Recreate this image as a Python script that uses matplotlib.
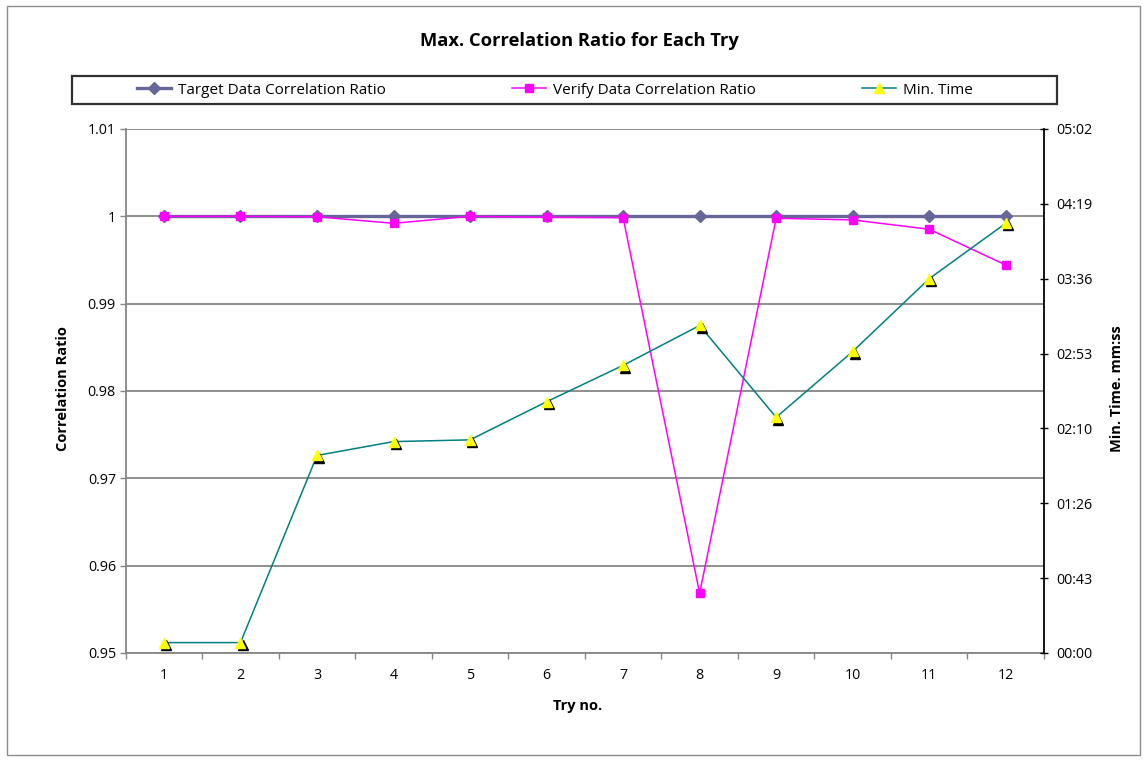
import matplotlib
matplotlib.use("Agg")
import matplotlib.pyplot as plt
import matplotlib.transforms as mtransforms
from matplotlib.ticker import FixedLocator, FuncFormatter, NullFormatter
from matplotlib.lines import Line2D
from matplotlib.patches import Rectangle

plt.rcParams['font.family'] = ['Open Sans', 'DejaVu Sans']

# ---- data ----
tries = list(range(1, 13))
target_ratio = [1.0, 1.0, 1.0, 1.0, 1.0, 1.0, 1.0, 1.0, 1.0, 1.0, 1.0, 1.0]
verify_ratio = [1.0, 1.0, 0.99995, 0.9992, 1.0, 0.99989, 0.99985, 0.95684,
                0.99978, 0.99959, 0.99852, 0.99443]
min_time_sec = [6, 6, 114, 122, 123, 145, 166, 189, 136, 174, 216, 248]

ratio_ticks = [0.95, 0.96, 0.97, 0.98, 0.99, 1.00, 1.01]
ratio_tick_labels = ['0.95', '0.96', '0.97', '0.98', '0.99', '1', '1.01']
time_max_sec = 302.4
time_ticks = [0, 43.2, 86.4, 129.6, 172.8, 216.0, 259.2, 302.4]

title = 'Max. Correlation Ratio for Each Try'
series_names = ['Target Data Correlation Ratio', 'Verify Data Correlation Ratio', 'Min. Time']

# ---- colours ----
c_target = '#666699'
c_verify = '#FF00FF'
c_time = '#008080'
c_tri = '#FFFF00'
c_grid = '#868686'

W, H = 1147, 761
fig = plt.figure(figsize=(W / 100, H / 100), dpi=100)


def fx(px):
    return px / W


def fy(py):
    return 1 - py / H


# outer chart border
fig.patches.append(Rectangle((fx(7), fy(755)), fx(1140) - fx(7), fy(6) - fy(755),
                             transform=fig.transFigure, fill=False,
                             edgecolor='#8c8c8c', linewidth=1.0))

left, right, top, bottom = 125.7, 1044, 129, 653
ax = fig.add_axes([fx(left), fy(bottom), fx(right) - fx(left), fy(top) - fy(bottom)])

tick_fs = 10.3
ax.set_xlim(0.5, 12.5)
ax.set_ylim(0.95, 1.01)
ax.yaxis.set_major_locator(FixedLocator(ratio_ticks))
ax.set_yticklabels(ratio_tick_labels)
ax.xaxis.set_major_locator(FixedLocator(tries))
ax.set_xticklabels([str(t) for t in tries])
ax.xaxis.set_minor_locator(FixedLocator([t + 0.5 for t in range(0, 13)]))
ax.xaxis.set_minor_formatter(NullFormatter())
ax.tick_params(axis='x', which='major', length=0, pad=11, labelsize=tick_fs, colors='black')
ax.tick_params(axis='x', which='minor', length=4.5, width=1.0, color=c_grid, direction='out')
ax.tick_params(axis='y', which='major', length=4, width=1.0, color=c_grid, direction='out',
               pad=3, labelsize=tick_fs)
for s in ('top', 'right'):
    ax.spines[s].set_visible(False)
for s in ('left', 'bottom'):
    ax.spines[s].set_color(c_grid)
    ax.spines[s].set_linewidth(1.3)
ax.yaxis.grid(True, color=c_grid, linewidth=1.3)
ax.set_axisbelow(True)

ax.plot(tries, target_ratio, color=c_target, linewidth=2.4, marker='D',
        markersize=6.3, markerfacecolor=c_target, markeredgecolor=c_target, zorder=3,
        clip_on=False)
ax.plot(tries, verify_ratio, color=c_verify, linewidth=1.1, marker='s',
        markersize=5.6, markerfacecolor=c_verify, markeredgecolor=c_verify, zorder=4,
        clip_on=False)

# secondary axis: time in seconds shown as mm:ss
ax2 = ax.twinx()
ax2.set_ylim(0, time_max_sec)
ax2.yaxis.set_major_locator(FixedLocator(time_ticks))


def mmss(v, pos):
    s = int(round(v))
    return f'{s // 60:02d}:{s % 60:02d}'


ax2.yaxis.set_major_formatter(FuncFormatter(mmss))
ax2.tick_params(axis='y', which='major', length=6, width=1.0, color='black',
                direction='inout', pad=6, labelsize=tick_fs)
for s in ('top', 'left', 'bottom'):
    ax2.spines[s].set_visible(False)
ax2.spines['right'].set_color('black')
ax2.spines['right'].set_linewidth(1.3)

ax2.plot(tries, min_time_sec, color=c_time, linewidth=1.1, zorder=2, clip_on=False)
shadow = mtransforms.offset_copy(ax2.transData, fig=fig, x=1.6, y=-1.6, units='points')
ax2.plot(tries, min_time_sec, linestyle='none', marker='^', markersize=6.5,
         markerfacecolor='black', markeredgecolor='black', transform=shadow, zorder=3,
         clip_on=False)
ax2.plot(tries, min_time_sec, linestyle='none', marker='^', markersize=6.5,
         markerfacecolor=c_tri, markeredgecolor=c_tri, zorder=4, clip_on=False)

# titles and axis labels
fig.text(fx(579), fy(41), title, ha='center', va='center', fontsize=13.2,
         fontweight='bold')
fig.text(fx(63), fy(389), 'Correlation Ratio', rotation=90, ha='center', va='center',
         fontsize=10.5, fontweight='bold')
fig.text(fx(1117), fy(389), 'Min. Time. mm:ss', rotation=90, ha='center', va='center',
         fontsize=10.5, fontweight='bold')
fig.text(fx(578), fy(706), 'Try no.', ha='center', va='center', fontsize=10.5,
         fontweight='bold')

# legend box with three entries
fig.patches.append(Rectangle((fx(72), fy(104)), fx(1057) - fx(72), fy(76) - fy(104),
                             transform=fig.transFigure, fill=False,
                             edgecolor='#303030', linewidth=1.6))
handles = [
    Line2D([], [], color=c_target, linewidth=2.4, marker='D', markersize=6.3,
           markerfacecolor=c_target, markeredgecolor=c_target),
    Line2D([], [], color=c_verify, linewidth=1.1, marker='s', markersize=5.6,
           markerfacecolor=c_verify, markeredgecolor=c_verify),
    Line2D([], [], color=c_time, linewidth=1.1, marker='^', markersize=6.5,
           markerfacecolor=c_tri, markeredgecolor=c_tri),
]
legend_x = [137, 512, 862]
for h, name, x0 in zip(handles, series_names, legend_x):
    fig.legend([h], [name], loc='center left', bbox_to_anchor=(fx(x0), fy(90)),
               frameon=False, borderpad=0, borderaxespad=0, handlelength=2.2,
               handletextpad=0.5, fontsize=11)

fig.savefig('out.png', dpi=100)
